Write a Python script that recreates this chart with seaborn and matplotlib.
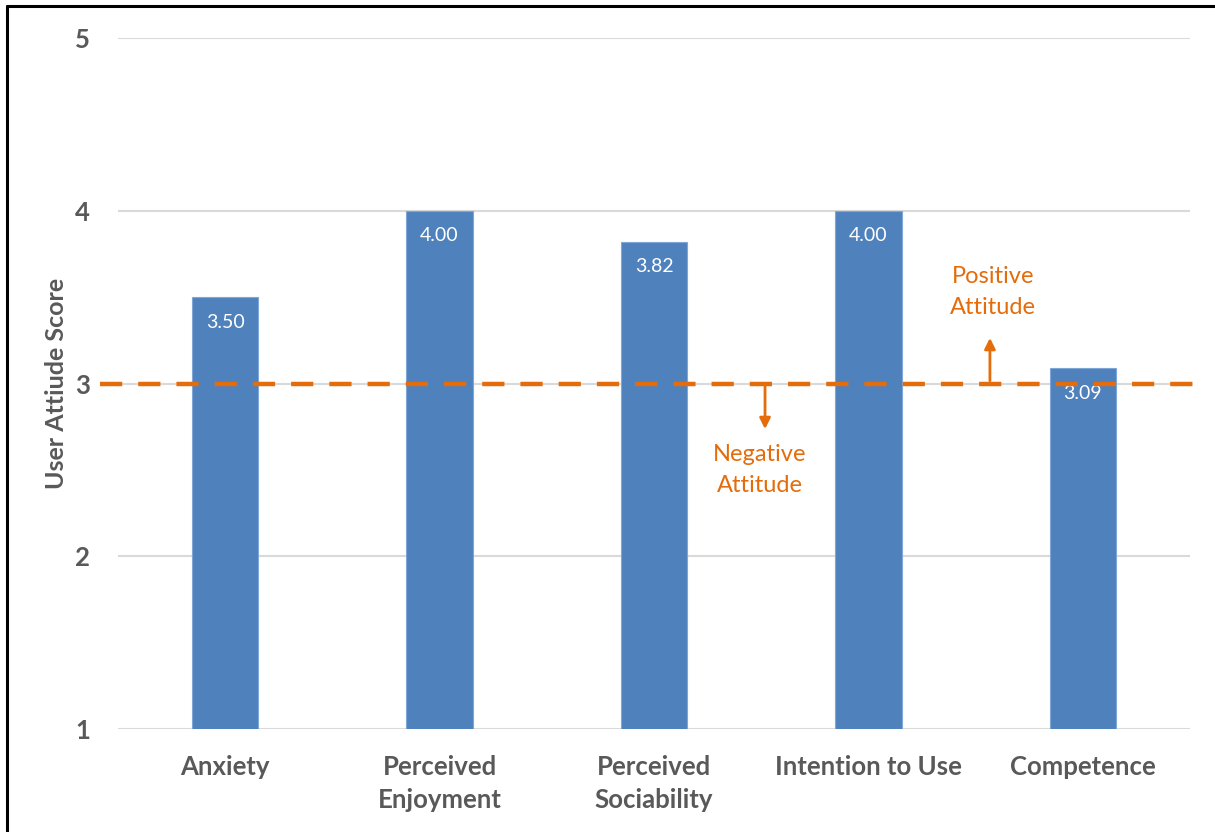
import matplotlib
matplotlib.use('Agg')
import matplotlib.pyplot as plt
import seaborn as sns
import pandas as pd
from matplotlib.lines import Line2D

sns.set_style("white")
plt.rcParams['font.family'] = ['Lato', 'DejaVu Sans']

categories = ["Anxiety", "Perceived\nEnjoyment", "Perceived\nSociability",
              "Intention to Use", "Competence"]
scores = [3.50, 4.00, 3.82, 4.00, 3.09]
y_ticks = [1, 2, 3, 4, 5]
threshold = 3

bar_color = "#4F81BD"
orange = "#E46C0A"
grey = "#595959"

df = pd.DataFrame({"category": categories, "score": scores})

fig = plt.figure(figsize=(12.15, 8.32), dpi=100)
ax = fig.add_axes([0.0971, 0.1238, 0.8823, 0.8305])

sns.barplot(data=df, x="category", y="score", color=bar_color, width=0.31,
            saturation=1, edgecolor="#7EA6D6", linewidth=0.8, ax=ax, zorder=3)

ax.set_ylim(1, 5)
ax.set_xlim(-0.5, 4.5)
ax.set_yticks(y_ticks)
ax.yaxis.grid(True, color="#D9D9D9", linewidth=1.5, zorder=0)
ax.set_axisbelow(True)
sns.despine(ax=ax, left=True, bottom=True, top=True, right=True)
ax.tick_params(axis='y', length=0, pad=20, labelsize=18.5, labelcolor=grey)
ax.tick_params(axis='x', length=0, pad=19, labelsize=18.5, labelcolor=grey)
for lbl in ax.get_xticklabels() + ax.get_yticklabels():
    lbl.set_fontweight('bold')
    lbl.set_linespacing(1.45)
ax.set_xlabel("")
ax.set_ylabel("User Attiude Score", fontsize=18, fontweight='bold', color=grey)
ax.yaxis.set_label_coords(-0.047, 0.5)

# value labels inside the bars
for i, v in enumerate(scores):
    ax.text(i, v - 0.145, f"{v:.2f}", ha='center', va='center', color='white',
            fontsize=14, zorder=5)

# threshold line, extending slightly past the plot area
ax.plot([-0.584, 4.547], [threshold, threshold], color=orange, linewidth=3.2,
        dashes=(5, 3.6), clip_on=False, zorder=6)

# negative / positive attitude arrows
ax.annotate("", xy=(2.518, 2.72), xytext=(2.518, threshold),
            arrowprops=dict(arrowstyle="-|>", color=orange, lw=2, mutation_scale=16),
            zorder=6)
ax.annotate("", xy=(3.567, 3.28), xytext=(3.567, threshold),
            arrowprops=dict(arrowstyle="-|>", color=orange, lw=2, mutation_scale=16),
            zorder=6)
ax.text(2.494, 2.50, "Negative\nAttitude", ha='center', va='center', color=orange,
        fontsize=17, linespacing=1.6)
ax.text(3.58, 3.53, "Positive\nAttitude", ha='center', va='center', color=orange,
        fontsize=17, linespacing=1.6)

# outer frame (left and top edges)
fig.add_artist(Line2D([0.0058, 0.0058], [0, 0.993], color='black', linewidth=2.2,
                      transform=fig.transFigure))
fig.add_artist(Line2D([0.0058, 1.0], [0.993, 0.993], color='black', linewidth=2.2,
                      transform=fig.transFigure))

fig.savefig("out.png", dpi=100)
